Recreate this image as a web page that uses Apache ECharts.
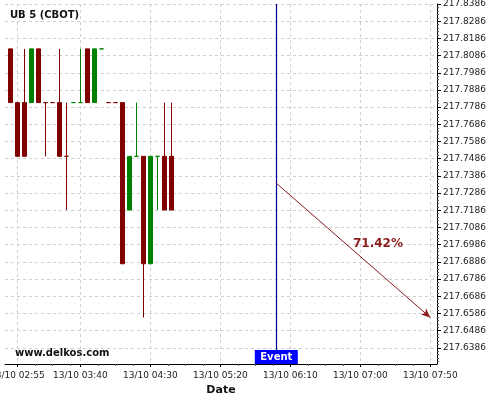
<!DOCTYPE html>
<html><head><meta charset="utf-8">
<script src="https://cdn.jsdelivr.net/npm/echarts@6/dist/echarts.min.js"></script>
<style>html,body{margin:0;padding:0;background:#fff}#c{width:500px;height:400px}</style>
</head><body><div id="c"></div>
<script>
// ---- data ----
const chartTitle = 'UB 5 (CBOT)';
const sourceText = 'www.delkos.com';
const dayLabel = '13/10';
const times  = ['02:50','02:55','03:00','03:05','03:10','03:15','03:20','03:25','03:30','03:35','03:40','03:45','03:50','03:55','04:00','04:05','04:10','04:15','04:20','04:25','04:30','04:35','04:40','04:45'];
const opens  = [217.8125,217.78125,217.78125,217.78125,217.8125,217.78125,217.78125,217.78125,217.75,217.78125,217.78125,217.8125,217.78125,217.8125,217.78125,217.78125,217.78125,217.71875,217.75,217.75,217.6875,217.75,217.75,217.75];
const closes = [217.78125,217.75,217.75,217.8125,217.78125,217.78125,217.78125,217.75,217.75,217.78125,217.78125,217.78125,217.8125,217.8125,217.78125,217.78125,217.6875,217.75,217.75,217.6875,217.75,217.75,217.71875,217.71875];
const lows   = [217.78125,217.75,217.75,217.78125,217.78125,217.75,217.78125,217.75,217.71875,217.78125,217.78125,217.78125,217.78125,217.8125,217.78125,217.78125,217.6875,217.71875,217.75,217.65625,217.6875,217.71875,217.71875,217.71875];
const highs  = [217.8125,217.78125,217.8125,217.8125,217.8125,217.78125,217.78125,217.8125,217.78125,217.78125,217.8125,217.8125,217.8125,217.8125,217.78125,217.78125,217.78125,217.75,217.78125,217.75,217.75,217.75,217.78125,217.78125];
const dirs   = ['d','d','d','u','d','d','d','d','d','u','u','d','u','u','d','d','d','u','u','d','u','u','d','d'];
const xTickLabels = ['02:55','03:40','04:30','05:20','06:10','07:00','07:50'];
const yTickLabels = [217.6386,217.6486,217.6586,217.6686,217.6786,217.6886,217.6986,217.7086,217.7186,217.7286,217.7386,217.7486,217.7586,217.7686,217.7786,217.7886,217.7986,217.8086,217.8186,217.8286,217.8386];
const eventTime = '06:00';
const eventText = 'Event';
const arrowFrom = ['06:00', 217.734375];
const arrowTo   = ['07:50', 217.65625];
const arrowText = '71.42%';

// ---- helpers ----
const toMin = s => { const p = s.split(':'); return +p[0]*60 + +p[1]; };
const pad = n => (n < 10 ? '0' : '') + n;
const fmtTime = m => { m = Math.round(m); return dayLabel + ' ' + pad(Math.floor(m/60)) + ':' + pad(m%60); };
const UP = '#008000', DOWN = '#800000';
const xMin = 166.2, xMax = 474.8;
const yMin = 217.6292, yMax = 217.8386;

const xMajor = xTickLabels.map(toMin);
const xMinor = [];
for (let i = 0; i < xMajor.length; i++) {
  const next = i + 1 < xMajor.length ? xMajor[i+1] : xMax;
  for (let k = 1; k < 4; k++) { const v = xMajor[i] + 12.5*k; if (v < next && v < xMax) xMinor.push(v); }
}
const yMinor = [];
for (let i = 0; i < yTickLabels.length; i++) {
  for (let k = 1; k < 5; k++) { const v = yTickLabels[i] + 0.002*k; if (v < yMax) yMinor.push(v); }
  for (let k = 1; k < 5; k++) { const v = yTickLabels[i] - 0.002*k; if (i === 0 && v > yMin) yMinor.push(v); }
}

function candles(dir) {
  const out = [];
  times.forEach((t, i) => { if (dirs[i] === dir) out.push([toMin(t), opens[i], closes[i], lows[i], highs[i]]); });
  return out;
}
function candleStyle(c) {
  return { color: c, color0: c, borderColor: c, borderColor0: c, borderColorDoji: c, borderWidth: 1 };
}

const FONT = 'DejaVu Sans';
const tAt = 0.66;
const labelPt = [toMin(arrowFrom[0]) + (toMin(arrowTo[0]) - toMin(arrowFrom[0]))*tAt,
                 arrowFrom[1] + (arrowTo[1] - arrowFrom[1])*tAt];

const option = {
  animation: false,
  backgroundColor: '#fff',
  textStyle: { fontFamily: FONT },
  title: [
    { text: chartTitle, left: 10, top: 10, padding: 0, textStyle: { fontFamily: FONT, fontSize: 10, fontWeight: 'bold', color: '#111' } },
    { text: sourceText, left: 15, top: 348, padding: 0, textStyle: { fontFamily: FONT, fontSize: 10, fontWeight: 'bold', color: '#111' } }
  ],
  grid: { left: 5, right: 63, top: 4, bottom: 36, containLabel: false, outerBoundsMode: 'none' },
  xAxis: [{
    type: 'value', min: xMin, max: xMax,
    name: 'Date', nameLocation: 'middle', nameGap: 21,
    nameTextStyle: { fontFamily: FONT, fontSize: 11, fontWeight: 'bold', color: '#111' },
    axisLine: { show: true, onZero: false, lineStyle: { color: '#000', width: 1 } },
    axisTick: { show: true, customValues: xMajor, length: 3, lineStyle: { color: '#000' } },
    axisLabel: { customValues: xMajor, formatter: v => fmtTime(v), fontSize: 9, color: '#222', margin: 7, fontFamily: FONT, showMinLabel: true, showMaxLabel: true, hideOverlap: false },
    splitLine: { show: true, lineStyle: { color: '#cfcfcf', type: [3, 3], width: 1 } }
  }, {
    type: 'value', min: xMin, max: xMax, position: 'bottom',
    axisLine: { show: false },
    axisTick: { show: true, customValues: xMinor, length: 2, lineStyle: { color: '#555' } },
    axisLabel: { show: false }, splitLine: { show: false }
  }],
  yAxis: [{
    type: 'value', position: 'right', min: yMin, max: yMax, scale: true,
    axisLine: { show: true, onZero: false, lineStyle: { color: '#000', width: 1 } },
    axisTick: { show: true, customValues: yTickLabels, length: 4, lineStyle: { color: '#000' } },
    axisLabel: { customValues: yTickLabels, formatter: v => v.toFixed(4), fontSize: 9, color: '#222', margin: 6, fontFamily: FONT, showMinLabel: true, showMaxLabel: true },
    splitLine: { show: true, lineStyle: { color: '#cfcfcf', type: [3, 3], width: 1 } }
  }, {
    type: 'value', position: 'right', min: yMin, max: yMax, scale: true,
    axisLine: { show: false },
    axisTick: { show: true, customValues: yMinor, length: 2, lineStyle: { color: '#555' } },
    axisLabel: { show: false }, splitLine: { show: false }
  }],
  series: [
    { type: 'candlestick', name: 'up', data: candles('u'), barWidth: 4, itemStyle: candleStyle(UP) },
    { type: 'candlestick', name: 'down', data: candles('d'), barWidth: 4, itemStyle: candleStyle(DOWN),
      markLine: {
        silent: true, animation: false, symbol: ['none', 'none'],
        label: { show: false },
        data: [
          { xAxis: toMin(eventTime), lineStyle: { color: '#000099', width: 1.2, type: 'solid' } },
          [ { coord: [toMin(arrowFrom[0]), arrowFrom[1]], symbol: 'none', lineStyle: { color: '#8b1a1a', width: 1, type: 'solid' } },
            { coord: [toMin(arrowTo[0]), arrowTo[1]], symbol: 'arrow', symbolSize: [6, 9] } ]
        ]
      },
      markPoint: {
        silent: true, animation: false,
        data: [
          { coord: [toMin(eventTime), yMin], symbol: 'rect', symbolSize: [43, 14], symbolOffset: [0, -7],
            itemStyle: { color: '#0000ff' },
            label: { show: true, position: 'inside', formatter: eventText, color: '#fff', fontWeight: 'bold', fontSize: 10, fontFamily: FONT } },
          { coord: labelPt, symbol: 'circle', symbolSize: 0,
            label: { show: true, position: 'inside', offset: [0, -28], formatter: arrowText, color: '#8b1a1a', fontWeight: 'bold', fontSize: 12, fontFamily: FONT } }
        ]
      }
    }
  ]
};
const chart = echarts.init(document.getElementById('c'), null, { renderer: 'canvas' });
chart.setOption(option);
</script></body></html>
